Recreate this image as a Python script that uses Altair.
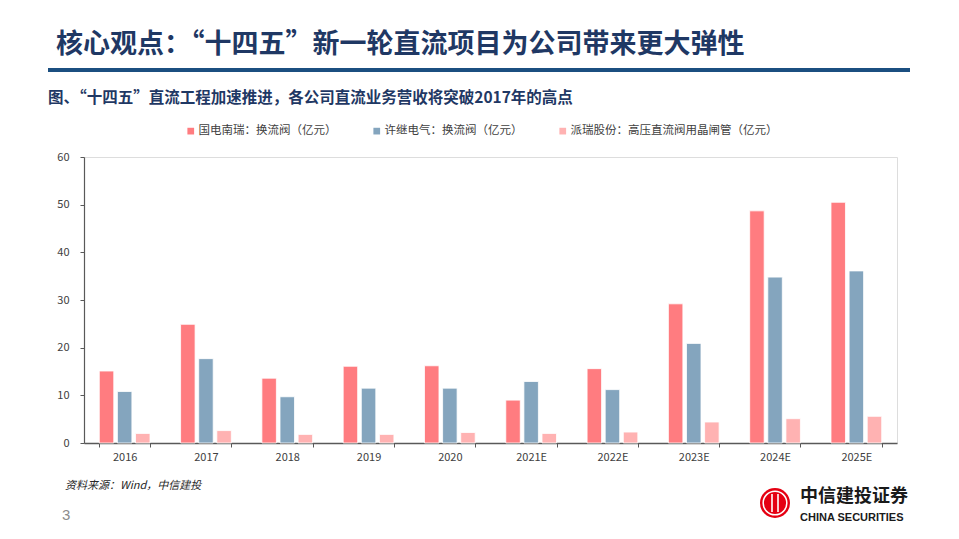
import altair as alt
import pandas as pd

years = ["2016", "2017", "2018", "2019", "2020", "2021E", "2022E", "2023E", "2024E", "2025E"]
series = ["国电南瑞：换流阀（亿元）", "许继电气：换流阀（亿元）", "派瑞股份：高压直流阀用晶闸管（亿元）"]
nari = [15.1, 24.9, 13.6, 16.1, 16.2, 9.0, 15.6, 29.2, 48.7, 50.5]
xj = [10.8, 17.7, 9.7, 11.5, 11.5, 12.9, 11.2, 20.9, 34.8, 36.1]
pairui = [2.0, 2.6, 1.8, 1.8, 2.2, 2.0, 2.3, 4.4, 5.1, 5.6]
colors = ["#FF7C80", "#84A5BE", "#FFB2B2"]

title_text = "核心观点：“十四五”新一轮直流项目为公司带来更大弹性"
subtitle_text = "图、“十四五”直流工程加速推进，各公司直流业务营收将突破2017年的高点"
source_text = "资料来源：Wind，中信建投"

rows = []
for s, vals in zip(series, [nari, xj, pairui]):
    for y, v in zip(years, vals):
        rows.append({"year": y, "series": s, "value": v})
df = pd.DataFrame(rows)

FONT = "Noto Sans CJK SC"
W, H = 813, 286

bars = alt.Chart(df).mark_bar(stroke="white", strokeWidth=0.8).encode(
    x=alt.X("year:N", sort=years, title=None,
            scale=alt.Scale(paddingInner=0.376, paddingOuter=0.188),
            axis=alt.Axis(tickBand="extent", labelAngle=0, labelFontSize=11,
                          labelColor="#404040", labelFont=FONT, domainColor="#595959",
                          tickColor="#595959", tickSize=4, labelPadding=4,
                          domainWidth=1.5)),
    xOffset=alt.XOffset("series:N", sort=series,
                        scale=alt.Scale(paddingInner=0.2, paddingOuter=0)),
    y=alt.Y("value:Q", title=None,
            scale=alt.Scale(domain=[0, 60]),
            axis=alt.Axis(values=[0, 10, 20, 30, 40, 50, 60], grid=False,
                          labelFontSize=11, labelColor="#404040", labelFont=FONT,
                          domainColor="#595959", tickColor="#595959", tickSize=4,
                          labelPadding=11, domainWidth=1.2)),
    color=alt.Color("series:N", sort=series,
                    scale=alt.Scale(domain=series, range=colors),
                    legend=alt.Legend(orient="none", direction="horizontal",
                                      legendX=101, legendY=-32, title=None,
                                      symbolType="square", symbolSize=45,
                                      symbolStrokeWidth=0, labelFontSize=11.5,
                                      labelFont=FONT, labelColor="#404040",
                                      labelLimit=0,
                                      columnPadding=34, labelOffset=2)),
)

def txt(text, x, y, size, color, weight="normal", style="normal", align="left", font=FONT):
    return alt.Chart(pd.DataFrame({"t": [text]})).mark_text(
        align=align, baseline="middle", fontSize=size, color=color,
        fontWeight=weight, fontStyle=style, font=font
    ).encode(x=alt.value(x), y=alt.value(y), text="t:N")

title = txt(title_text, -28, -112, 27, "#1F3864", weight="bold")
subtitle = txt(subtitle_text, -36, -59, 15.5, "#1F3864", weight="bold")
source = txt(source_text, -19, 329, 11, "#262626", style="italic")
page = txt("3", -22, 358, 15, "#8C8C8C", font="Liberation Sans")

line = alt.Chart(pd.DataFrame({"a": [0]})).mark_rule(color="#1B4F80", strokeWidth=4).encode(
    x=alt.value(-36), x2=alt.value(826), y=alt.value(-87)
)

logo_df = pd.DataFrame({"a": [0]})
logo_circle = alt.Chart(logo_df).mark_point(filled=True, shape="circle", size=900,
                                             color="#E50012", opacity=1).encode(
    x=alt.value(691), y=alt.value(346))
logo_ring = alt.Chart(logo_df).mark_point(filled=False, shape="circle", size=560,
                                           color="white", strokeWidth=1.5, opacity=1).encode(
    x=alt.value(691), y=alt.value(346))
logo_bars = alt.Chart(pd.DataFrame({"a": [0]})).mark_rule(color="white", strokeWidth=1.6).encode(
    x=alt.value(688), x2=alt.value(688), y=alt.value(337), y2=alt.value(355))
logo_bars2 = alt.Chart(pd.DataFrame({"a": [0]})).mark_rule(color="white", strokeWidth=1.6).encode(
    x=alt.value(694), x2=alt.value(694), y=alt.value(337), y2=alt.value(355))
logo_cn = txt("中信建投证券", 716, 340, 18, "#1A1A1A", weight="bold")
logo_en = txt("CHINA SECURITIES", 716, 361, 11, "#1A1A1A", weight="bold", font="Liberation Sans")

chart = alt.layer(
    bars, title, subtitle, line, source, page,
    logo_circle, logo_ring, logo_bars, logo_bars2, logo_cn, logo_en
).properties(
    width=W, height=H,
    autosize=alt.AutoSizeParams(type="none"),
    padding={"left": 76, "top": 149, "right": 53, "bottom": 87},
).configure_view(stroke=None).configure(background="white")

chart.save("out.html", embed_options={"renderer": "svg", "actions": False})
